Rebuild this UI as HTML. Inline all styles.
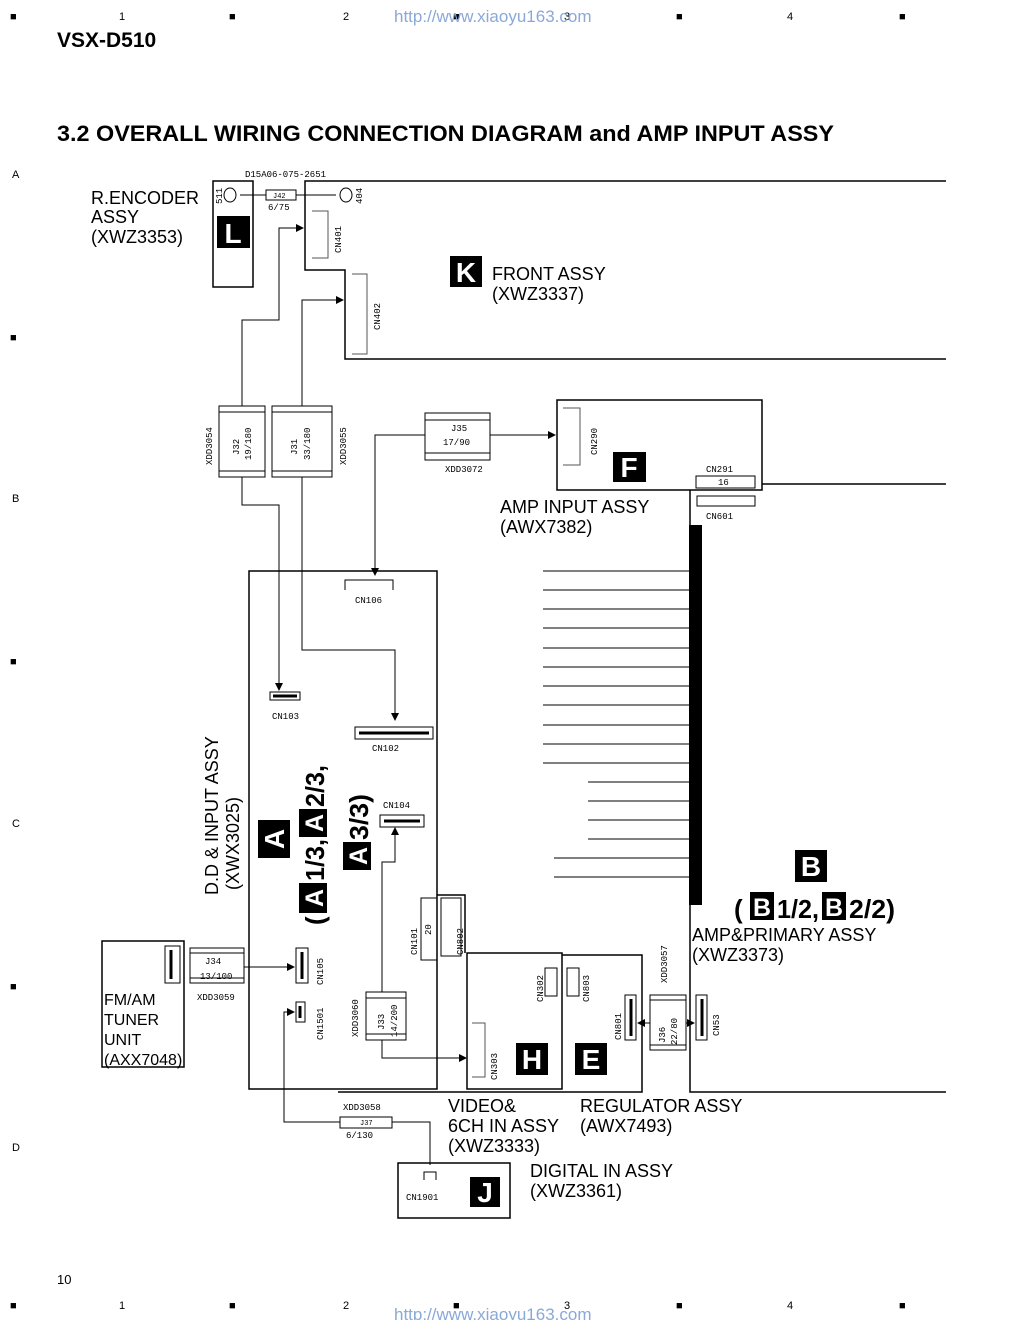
<!DOCTYPE html>
<html><head><meta charset="utf-8"><style>
body{margin:0;background:#fff}
svg{display:block;font-family:"Liberation Sans",sans-serif}
.s{font-size:9px;font-family:"Liberation Mono",monospace}
.l{font-size:18px}
</style></head><body>
<svg width="1020" height="1320" viewBox="0 0 1020 1320" xmlns="http://www.w3.org/2000/svg">
<defs><marker id="a" markerWidth="8" markerHeight="8" refX="7" refY="4" orient="auto" markerUnits="userSpaceOnUse"><path d="M0,0L8,4L0,8z" fill="#000"/></marker></defs>
<g font-size="11" fill="#000">
<text x="10" y="20">■</text><text x="119" y="20">1</text><text x="229" y="20">■</text><text x="343" y="20">2</text><text x="453" y="20">■</text><text x="564" y="20">3</text><text x="676" y="20">■</text><text x="787" y="20">4</text><text x="899" y="20">■</text>
<text x="10" y="1309">■</text><text x="119" y="1309">1</text><text x="229" y="1309">■</text><text x="343" y="1309">2</text><text x="453" y="1309">■</text><text x="564" y="1309">3</text><text x="676" y="1309">■</text><text x="787" y="1309">4</text><text x="899" y="1309">■</text>
<text x="12" y="178">A</text><text x="12" y="502">B</text><text x="12" y="827">C</text><text x="12" y="1151">D</text>
<text x="10" y="341">■</text><text x="10" y="665">■</text><text x="10" y="990">■</text>
<text x="57" y="1284" font-size="13">10</text>
</g>
<text x="394" y="22" font-size="17" fill="#8aa8d8">http://www.xiaoyu163.com</text>
<text x="394" y="1320" font-size="17" fill="#8aa8d8">http://www.xiaoyu163.com</text>
<text x="57" y="47" font-size="21" font-weight="bold">VSX-D510</text>
<text x="57" y="141" font-size="22" font-weight="bold" textLength="777" lengthAdjust="spacingAndGlyphs">3.2 OVERALL WIRING CONNECTION DIAGRAM and AMP INPUT ASSY</text>

<g fill="none" stroke="#000" stroke-width="1.5">
<path d="M946,181H305V270H345V359H946"/>
<rect x="213" y="181" width="40" height="106"/>
<rect x="557" y="400" width="205" height="90"/>
<path d="M762,484H946"/>
<path d="M690,490V1092H946"/>
<rect x="249" y="571" width="188" height="518"/>
<path d="M338,1092H642V955H562"/>
<rect x="467" y="953" width="95" height="136"/>
<path d="M437,895H465V953"/>
<rect x="102" y="941" width="82" height="126"/>
<rect x="398" y="1163" width="112" height="55"/>
</g>
<g fill="none" stroke="#000" stroke-width="1">
<path d="M240,195H266M296,195H336"/>
<rect x="266" y="190" width="30" height="10"/>
<ellipse cx="230" cy="195" rx="6" ry="7"/><ellipse cx="346" cy="195" rx="6" ry="7"/>
<path d="M312,211H328V258H312M352,274H367V354H352" stroke="#555"/>
<rect x="219" y="406" width="46" height="71"/><rect x="272" y="406" width="60" height="71"/>
<path d="M219,412H265M219,471H265M272,412H332M272,471H332"/>
<path d="M242,406V320H279V228H303" marker-end="url(#a)"/>
<path d="M302,406V300H343" marker-end="url(#a)"/>
<path d="M242,477V505H279V690" marker-end="url(#a)"/>
<path d="M302,477V650H395V720" marker-end="url(#a)"/>
<rect x="425" y="413" width="65" height="47"/><path d="M425,420H490M425,453H490"/>
<path d="M490,435H555" marker-end="url(#a)"/>
<path d="M425,435H375V575" marker-end="url(#a)"/>
<path d="M563,408H580V465H563" stroke="#555"/>
<rect x="696" y="476" width="59" height="12"/><rect x="697" y="496" width="58" height="10"/>
<path d="M345,590V580H393V590"/>
<rect x="270" y="692" width="30" height="8"/><path d="M273,696H297" stroke-width="3"/>
<rect x="355" y="727" width="78" height="12"/><path d="M359,733H429" stroke-width="3"/>
<rect x="380" y="815" width="44" height="12"/><path d="M384,821H420" stroke-width="3"/>
<rect x="421" y="898" width="16" height="62"/><rect x="441" y="898" width="20" height="58"/>
<path d="M382,992V862H395V828" marker-end="url(#a)"/>
<rect x="366" y="992" width="40" height="48"/><path d="M366,998H406M366,1034H406"/>
<path d="M382,1040V1058H466" marker-end="url(#a)"/>
<path d="M472,1023H485V1077H472" stroke="#555"/>
<rect x="296" y="948" width="12" height="35"/><path d="M302,952V979" stroke-width="3"/>
<rect x="296" y="1002" width="9" height="20"/><path d="M300,1006V1018" stroke-width="3"/>
<rect x="165" y="946" width="15" height="37"/><path d="M171,950V979" stroke-width="3"/>
<rect x="190" y="948" width="54" height="35"/><path d="M190,953H244M190,978H244"/>
<path d="M244,967H294" marker-end="url(#a)"/>
<path d="M430,1165V1122H392M340,1122H284V1012H294" marker-end="url(#a)"/>
<rect x="340" y="1117" width="52" height="11"/>
<path d="M424,1180V1172H436V1180"/>
<rect x="545" y="968" width="12" height="28"/><rect x="567" y="968" width="12" height="28"/>
<rect x="625" y="995" width="11" height="45"/><path d="M631,999V1036" stroke-width="3"/>
<rect x="650" y="995" width="36" height="55"/><path d="M650,1000H686M650,1045H686"/>
<path d="M650,1023H638" marker-end="url(#a)"/><path d="M686,1023H694" marker-end="url(#a)"/>
<rect x="696" y="995" width="11" height="45"/><path d="M702,999V1036" stroke-width="3"/>
<path d="M543,571H690M543,590H690M543,609H690M543,628H690M543,648H690M543,667H690M543,686H690M543,705H690M543,725H690M543,744H690M543,763H690M588,782H690M588,801H690M588,820H690M588,839H690M554,858H690M554,877H690"/>
</g>
<rect x="689" y="525" width="13" height="380" fill="#000"/>
<g font-weight="bold" fill="#fff" font-size="28" text-anchor="middle">
<rect x="217" y="216" width="33" height="32" fill="#000"/><text x="233" y="243">L</text>
<rect x="450" y="256" width="32" height="31" fill="#000"/><text x="466" y="282">K</text>
<rect x="613" y="452" width="33" height="30" fill="#000"/><text x="629" y="477">F</text>
<rect x="795" y="850" width="32" height="32" fill="#000"/><text x="811" y="876">B</text>
<rect x="516" y="1043" width="32" height="32" fill="#000"/><text x="532" y="1069">H</text>
<rect x="575" y="1043" width="32" height="32" fill="#000"/><text x="591" y="1069">E</text>
<rect x="470" y="1177" width="30" height="30" fill="#000"/><text x="485" y="1202">J</text>
<rect x="258" y="820" width="32" height="38" fill="#000"/><text transform="translate(284,839) rotate(-90)" y="0">A</text>
</g>
<!-- rotated A sublabels -->
<g transform="translate(327,925) rotate(-90)" font-weight="bold" font-size="26">
<text x="0" y="-3">(</text>
<rect x="12" y="-28" width="30" height="28" fill="#000"/><text x="27" y="-4" fill="#fff" text-anchor="middle" font-size="25">A</text>
<text x="44" y="-3" textLength="42" lengthAdjust="spacingAndGlyphs">1/3,</text>
<rect x="88" y="-28" width="28" height="28" fill="#000"/><text x="102" y="-4" fill="#fff" text-anchor="middle" font-size="25">A</text>
<text x="118" y="-3" textLength="42" lengthAdjust="spacingAndGlyphs">2/3,</text>
</g>
<g transform="translate(371,870) rotate(-90)" font-weight="bold" font-size="26">
<rect x="0" y="-28" width="28" height="28" fill="#000"/><text x="14" y="-4" fill="#fff" text-anchor="middle" font-size="25">A</text>
<text x="30" y="-3" textLength="46" lengthAdjust="spacingAndGlyphs">3/3)</text>
</g>
<g font-weight="bold" font-size="26">
<text x="734" y="918">(</text>
<rect x="750" y="892" width="24" height="28" fill="#000"/><text x="762" y="916" fill="#fff" text-anchor="middle" font-size="25">B</text>
<text x="777" y="918" textLength="42" lengthAdjust="spacingAndGlyphs">1/2,</text>
<rect x="822" y="892" width="24" height="28" fill="#000"/><text x="834" y="916" fill="#fff" text-anchor="middle" font-size="25">B</text>
<text x="849" y="918" textLength="46" lengthAdjust="spacingAndGlyphs">2/2)</text>
</g>
<g class="l">
<text x="91" y="204">R.ENCODER</text><text x="91" y="223">ASSY</text><text x="91" y="243">(XWZ3353)</text>
<text x="492" y="280">FRONT ASSY</text><text x="492" y="300">(XWZ3337)</text>
<text x="500" y="513">AMP INPUT ASSY</text><text x="500" y="533">(AWX7382)</text>
<text x="692" y="941">AMP&amp;PRIMARY ASSY</text><text x="692" y="961">(XWZ3373)</text>
<text x="448" y="1112">VIDEO&amp;</text><text x="448" y="1132">6CH IN ASSY</text><text x="448" y="1152">(XWZ3333)</text>
<text x="580" y="1112">REGULATOR ASSY</text><text x="580" y="1132">(AWX7493)</text>
<text x="530" y="1177">DIGITAL IN ASSY</text><text x="530" y="1197">(XWZ3361)</text>
<text x="104" y="1005" font-size="16">FM/AM</text><text x="104" y="1025" font-size="16">TUNER</text><text x="104" y="1045" font-size="16">UNIT</text><text x="104" y="1065" font-size="16">(AXX7048)</text>
<text transform="translate(218,895) rotate(-90)">D.D &amp; INPUT ASSY</text>
<text transform="translate(239,890) rotate(-90)">(XWX3025)</text>
</g>
<g class="s">
<text x="245" y="177">D15A06-075-2651</text>
<text x="273" y="198" font-size="7">J42</text><text x="268" y="210">6/75</text>
<text transform="translate(222,204) rotate(-90)">511</text><text transform="translate(362,204) rotate(-90)">404</text>
<text transform="translate(341,253) rotate(-90)">CN401</text><text transform="translate(380,330) rotate(-90)">CN402</text>
<text transform="translate(212,465) rotate(-90)">XDD3054</text><text transform="translate(346,465) rotate(-90)">XDD3055</text>
<text transform="translate(239,455) rotate(-90)">J32</text><text transform="translate(251,460) rotate(-90)">19/180</text>
<text transform="translate(297,455) rotate(-90)">J31</text><text transform="translate(310,460) rotate(-90)">33/180</text>
<text x="451" y="431">J35</text><text x="443" y="445">17/90</text><text x="445" y="472">XDD3072</text>
<text transform="translate(597,455) rotate(-90)">CN290</text>
<text x="706" y="472">CN291</text><text x="718" y="485">16</text><text x="706" y="519">CN601</text>
<text x="355" y="603">CN106</text><text x="272" y="719">CN103</text><text x="372" y="751">CN102</text><text x="383" y="808">CN104</text>
<text transform="translate(417,955) rotate(-90)">CN101</text><text transform="translate(431,935) rotate(-90)">20</text><text transform="translate(463,955) rotate(-90)">CN802</text>
<text transform="translate(323,985) rotate(-90)">CN105</text><text transform="translate(323,1040) rotate(-90)">CN1501</text>
<text x="205" y="964">J34</text><text x="200" y="979">13/100</text><text x="197" y="1000">XDD3059</text>
<text transform="translate(358,1037) rotate(-90)">XDD3060</text>
<text transform="translate(384,1030) rotate(-90)">J33</text><text transform="translate(397,1037) rotate(-90)">14/200</text>
<text transform="translate(497,1080) rotate(-90)">CN303</text>
<text transform="translate(543,1002) rotate(-90)">CN302</text><text transform="translate(589,1002) rotate(-90)">CN803</text>
<text transform="translate(621,1040) rotate(-90)">CN801</text>
<text transform="translate(667,983) rotate(-90)">XDD3057</text>
<text transform="translate(665,1043) rotate(-90)">J36</text><text transform="translate(677,1045) rotate(-90)">22/80</text>
<text transform="translate(719,1036) rotate(-90)">CN53</text>
<text x="343" y="1110">XDD3058</text><text x="360" y="1125" font-size="7">J37</text><text x="346" y="1138">6/130</text>
<text x="406" y="1200">CN1901</text>
</g>
</svg>
</body></html>
